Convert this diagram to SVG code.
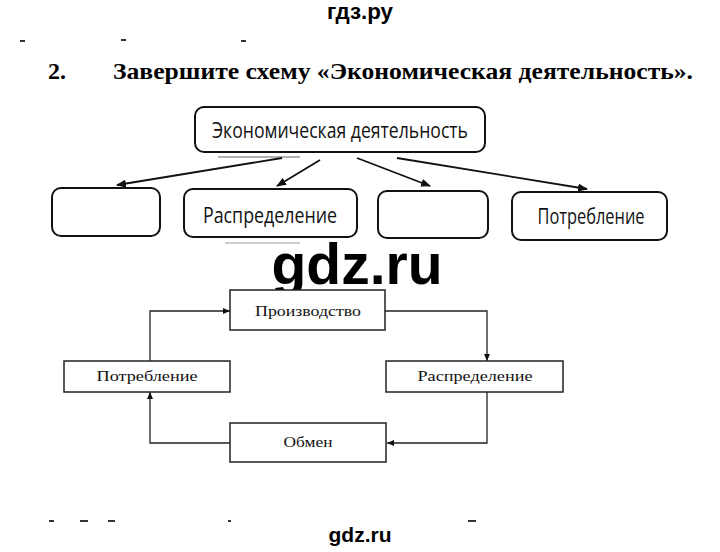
<svg xmlns="http://www.w3.org/2000/svg" width="720" height="552" viewBox="0 0 720 552">
<style>
.wm{font-family:"Liberation Sans",Arial,sans-serif;font-weight:bold;fill:#000}
.title{font-family:"Liberation Serif","Times New Roman",serif;font-weight:bold;font-size:24px;fill:#000}
.rbox{fill:#fff;stroke:#111;stroke-width:2}
.rtxt{font-family:"Open Sans","Noto Sans",sans-serif;font-size:21px;fill:#111;text-anchor:middle}
.box{fill:#fff;stroke:#222;stroke-width:1.5}
.stxt{font-family:"Liberation Serif","Times New Roman",serif;font-size:15px;fill:#111;text-anchor:middle}
.conn{fill:none;stroke:#111;stroke-width:1.8}
.cyc{fill:none;stroke:#222;stroke-width:1.3}
.mark{stroke:#333;stroke-width:2}
</style>
<defs>
<marker id="ah" markerWidth="10" markerHeight="8" refX="9" refY="4" orient="auto" markerUnits="userSpaceOnUse">
<path d="M0,0 L10,4 L0,8 Z" fill="#111"/>
</marker>
<marker id="sh" markerWidth="7" markerHeight="6" refX="7" refY="3" orient="auto" markerUnits="userSpaceOnUse">
<path d="M0,0 L7,3 L0,6 Z" fill="#111"/>
</marker>
</defs>
<rect width="720" height="552" fill="#fff"/>
<text class="wm" x="360" y="19" font-size="22" text-anchor="middle" textLength="66" lengthAdjust="spacingAndGlyphs">гдз.ру</text>
<g id="scan-marks">
<line class="mark" x1="20" y1="41" x2="25" y2="41"/>
<line class="mark" x1="121" y1="40" x2="126" y2="40"/>
<line class="mark" x1="241" y1="41" x2="246" y2="41"/>
<line class="mark" x1="49" y1="521" x2="54" y2="521"/>
<line class="mark" x1="80" y1="521" x2="88" y2="521"/>
<line class="mark" x1="108" y1="521" x2="115" y2="521"/>
<line class="mark" x1="228" y1="521" x2="231" y2="521"/>
<line class="mark" x1="468" y1="521" x2="476" y2="521"/>
<line x1="218" y1="157" x2="300" y2="157" stroke="#999" stroke-width="1.5"/>
<line x1="225" y1="243" x2="300" y2="243" stroke="#bbb" stroke-width="1.5"/>
</g>
<text class="title" x="48" y="79">2.</text>
<text class="title" x="113" y="79" textLength="580" lengthAdjust="spacingAndGlyphs">Завершите схему «Экономическая деятельность».</text>

<g id="connectors">
<line class="conn" x1="282" y1="158" x2="117" y2="185" marker-end="url(#ah)"/>
<line class="conn" x1="320" y1="160" x2="277" y2="186" marker-end="url(#ah)"/>
<line class="conn" x1="357" y1="158" x2="430" y2="186" marker-end="url(#ah)"/>
<line class="conn" x1="397" y1="158" x2="587" y2="189" marker-end="url(#ah)"/>
<polyline class="cyc" points="385,311 487,311 487,361" marker-end="url(#sh)"/>
<polyline class="cyc" points="487,392 487,443 387,443" marker-end="url(#sh)"/>
<polyline class="cyc" points="230,443 150,443 150,392" marker-end="url(#sh)"/>
<polyline class="cyc" points="150,361 150,311 230,311" marker-end="url(#sh)"/>
</g>

<g id="node-econ">
<rect class="rbox" x="195" y="107" width="290" height="45" rx="9"/>
<text class="rtxt" x="340" y="138" textLength="256" lengthAdjust="spacingAndGlyphs">Экономическая деятельность</text>
</g>
<g id="node-empty1">
<rect class="rbox" x="52" y="188" width="108" height="48" rx="9"/>
</g>
<g id="node-raspr-top">
<rect class="rbox" x="184" y="189" width="173" height="48" rx="9"/>
<text class="rtxt" x="270" y="223" textLength="134" lengthAdjust="spacingAndGlyphs">Распределение</text>
</g>
<g id="node-empty2">
<rect class="rbox" x="378" y="191" width="110" height="47" rx="9"/>
</g>
<g id="node-potr-top">
<rect class="rbox" x="512" y="192" width="155" height="48" rx="9"/>
<text class="rtxt" x="591" y="224" textLength="107" lengthAdjust="spacingAndGlyphs">Потребление</text>
</g>

<text class="wm" x="357" y="284" font-size="57" text-anchor="middle">gdz.ru</text>

<g id="node-proizv">
<rect class="box" x="230" y="290" width="155" height="40"/>
<text class="stxt" x="308" y="316" textLength="106" lengthAdjust="spacingAndGlyphs">Производство</text>
</g>
<g id="node-raspr">
<rect class="box" x="386" y="361" width="177" height="31"/>
<text class="stxt" x="475" y="381" textLength="115" lengthAdjust="spacingAndGlyphs">Распределение</text>
</g>
<g id="node-potr">
<rect class="box" x="64" y="361" width="166" height="31"/>
<text class="stxt" x="147" y="381" textLength="101" lengthAdjust="spacingAndGlyphs">Потребление</text>
</g>
<g id="node-obmen">
<rect class="box" x="230" y="423" width="156" height="39"/>
<text class="stxt" x="308" y="447" textLength="49" lengthAdjust="spacingAndGlyphs">Обмен</text>
</g>

<text class="wm" x="360" y="542" font-size="21" text-anchor="middle">gdz.ru</text>
</svg>
